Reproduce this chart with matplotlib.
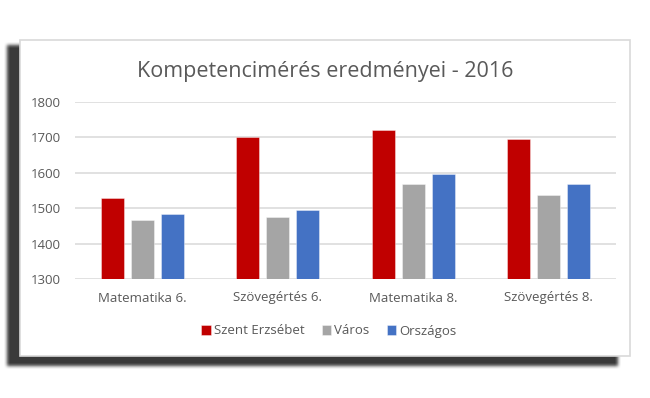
import numpy as np
import matplotlib
matplotlib.use("Agg")
import matplotlib.pyplot as plt
from matplotlib.patches import Rectangle

# adatok
kategoriak = ["Matematika 6.", "Szövegértés 6.", "Matematika 8.", "Szövegértés 8."]
szent_erzsebet = [1529, 1700, 1720, 1695]
varos = [1468, 1475, 1568, 1536]
orszagos = [1485, 1494, 1598, 1568]
sorozatok = ["Szent Erzsébet", "Város", "Országos"]
szinek = ["#C00000", "#A5A5A5", "#4472C4"]
y_tickek = [1300, 1400, 1500, 1600, 1700, 1800]

W, H = 650, 398
plt.rcParams['font.family'] = ['Open Sans', 'DejaVu Sans']

fig = plt.figure(figsize=(W / 100, H / 100), dpi=100)
fig.patch.set_facecolor("white")


def px(x0, y0, x1, y1):
    # pixel koordinatak (bal felso sarok) -> figura koordinatak
    return x0 / W, 1 - y1 / H, (x1 - x0) / W, (y1 - y0) / H


# arnyek: elmosott sotet teglalap
bg = fig.add_axes([0, 0, 1, 1], zorder=0)
bg.set_axis_off()
maszk = np.zeros((H, W))
maszk[44:365, 6:617] = 1.0
k = np.ones(4) / 4
for _ in range(2):
    maszk = np.apply_along_axis(lambda r: np.convolve(r, k, mode="same"), 1, maszk)
    maszk = np.apply_along_axis(lambda c: np.convolve(c, k, mode="same"), 0, maszk)
rgba = np.zeros((H, W, 4))
rgba[..., :3] = 0.23
rgba[..., 3] = maszk
bg.imshow(rgba, extent=(0, W, H, 0), aspect="auto", interpolation="bilinear")
bg.set_xlim(0, W)
bg.set_ylim(H, 0)
bg.add_patch(Rectangle((19.5, 39.5), 610.5, 316.5, facecolor="white",
                       edgecolor="#D9D9D9", linewidth=1.2))

ax = fig.add_axes(px(75, 102, 616, 279), zorder=1)
ax.patch.set_alpha(0)

x = np.arange(len(kategoriak))
szel = 0.17
lepes = 0.222
for i, (nev, ertekek) in enumerate(zip(sorozatok, [szent_erzsebet, varos, orszagos])):
    ax.bar(x + (i - 1) * lepes, np.array(ertekek) - 1300, bottom=1300, width=szel,
           color=szinek[i], edgecolor=(1, 1, 1, 0.45), linewidth=0.6, label=nev, zorder=3)

ax.set_xlim(-0.5, 3.5)
ax.set_ylim(1300, 1800)
ax.set_yticks(y_tickek)
ax.set_yticklabels([str(v) for v in y_tickek])
ax.set_xticks(x)
ax.set_xticklabels(kategoriak)
ax.yaxis.grid(True, color="#D9D9D9", linewidth=1.1, zorder=0)
ax.set_axisbelow(True)
for s in ax.spines.values():
    s.set_visible(False)
ax.tick_params(axis="both", length=0, labelsize=9.5, labelcolor="#595959")
ax.tick_params(axis="y", pad=10)
ax.tick_params(axis="x", pad=9)

fig.text(0.5, 1 - 72 / H, "Kompetencimérés eredményei - 2016", ha="center", va="center",
         fontsize=15.5, color="#595959")

ax.legend(loc="center", bbox_to_anchor=(329 / W, 1 - 331 / H), bbox_transform=fig.transFigure,
          ncol=3, frameon=False, fontsize=9.5, labelcolor="#595959", handlelength=0.7,
          handleheight=0.7, handletextpad=0.25, columnspacing=1.3)

fig.savefig("out.png", dpi=100)
